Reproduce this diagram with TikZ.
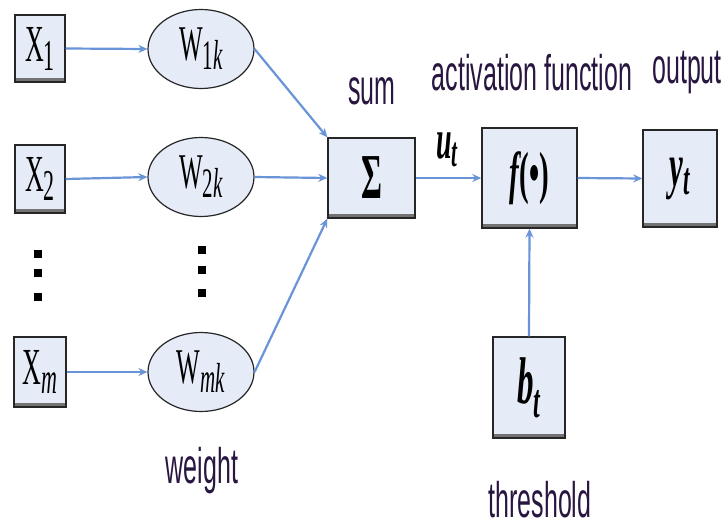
\documentclass[tikz,border=0pt]{standalone}
\usepackage{fontspec}
\setmainfont{Liberation Serif}
\setsansfont{Liberation Sans}
\usetikzlibrary{shapes.geometric,arrows.meta}
\definecolor{boxfill}{RGB}{230,236,247}
\definecolor{linkblue}{RGB}{105,148,215}
\definecolor{labeltext}{RGB}{40,22,65}
\newcommand\sq[1]{\scalebox{0.5}[1]{#1}}
\newcommand\fs[1]{\fontsize{#1}{#1}\selectfont}
\tikzset{
  blockbox/.style={rectangle, draw=black!85, line width=1.4pt, fill=boxfill, inner sep=0pt,
    path picture={\fill[black!55] ([yshift=4pt]path picture bounding box.south west) rectangle (path picture bounding box.south east);}},
  wellipse/.style={ellipse, draw=black!85, line width=1.2pt, fill=boxfill, inner sep=0pt, minimum width=106pt, minimum height=79pt},
  link/.style={draw=linkblue, line width=2.2pt, -{Stealth[length=9pt,width=8pt]}},
  lbl/.style={text=labeltext, inner sep=0pt, font=\sffamily\fs{50}},
  dotmark/.style={fill=black, minimum size=8pt, inner sep=0pt, rectangle}
}
\begin{document}
\begin{tikzpicture}[x=1pt,y=-1pt]
\useasboundingbox (0,0) rectangle (724,527);
% input boxes
\node[blockbox, minimum width=50pt, minimum height=67pt] (x1) at (40,48.5) {\sq{\fs{52}X\raisebox{-9pt}{\fs{44}1}}};
\node[blockbox, minimum width=50pt, minimum height=68pt] (x2) at (40,179) {\sq{\fs{52}X\raisebox{-9pt}{\fs{44}2}}};
\node[blockbox, minimum width=52pt, minimum height=70pt] (xm) at (40,372) {\sq{\fs{52}X\raisebox{-9pt}{\fs{44}\itshape m}}};
% weights
\node[wellipse] (w1) at (201,49) {\sq{\fs{50}W\raisebox{-9pt}{\fs{42}1\itshape k}}};
\node[wellipse] (w2) at (201,177) {\sq{\fs{50}W\raisebox{-9pt}{\fs{42}2\itshape k}}};
\node[wellipse] (wm) at (201,372) {\sq{\fs{50}W\raisebox{-9pt}{\fs{42}\itshape mk}}};
% dots
\node[dotmark] (d1) at (38,254) {};
\node[dotmark] (d2) at (38,273) {};
\node[dotmark] (d3) at (38,297) {};
\node[dotmark] (e1) at (202,250) {};
\node[dotmark] (e2) at (202,270) {};
\node[dotmark] (e3) at (202,293) {};
% processing blocks
\node[blockbox, minimum width=87pt, minimum height=80pt] (sum) at (371.5,178) {\sq{\fs{64}\bfseries Σ}};
\node[blockbox, minimum width=95pt, minimum height=100pt] (f) at (529.5,178) {\sq{\fs{58}\bfseries\itshape f\upshape(•)}};
\node[blockbox, minimum width=74pt, minimum height=97pt] (y) at (680,178.5) {\sq{\fs{62}\bfseries\itshape y\raisebox{-8pt}{\fs{46}t}}};
\node[blockbox, minimum width=72pt, minimum height=101pt] (b) at (529,387.5) {\sq{\fs{66}\bfseries\itshape b\raisebox{-14pt}{\fs{48}t}}};
% labels
\node[lbl] (lsum) at (372,91) {\sq{sum}};
\node[lbl] (lact) at (532,73) {\sq{activation function}};
\node[lbl] (lout) at (687,73) {\sq{output}};
\node[lbl] (lw) at (202,471) {\sq{weight}};
\node[lbl] (lth) at (540,500) {\sq{threshold}};
\node[inner sep=0pt] (ut) at (447,150) {\sq{\fs{56}\bfseries\itshape u\raisebox{-8pt}{\fs{42}t}}};
% connectors
\draw[link] (x1.east) -- (w1.west);
\draw[link] (x2.east) -- (w2.west);
\draw[link] (xm.east) -- (wm.west);
\draw[link] (w1.east) -- (sum.north west);
\draw[link] (w2.east) -- (sum.west);
\draw[link] (wm.east) -- (sum.south west);
\draw[link] (sum.east) -- (f.west);
\draw[link] (f.east) -- (y.west);
\draw[link] (b.north) -- (f.south);
\end{tikzpicture}
\end{document}
